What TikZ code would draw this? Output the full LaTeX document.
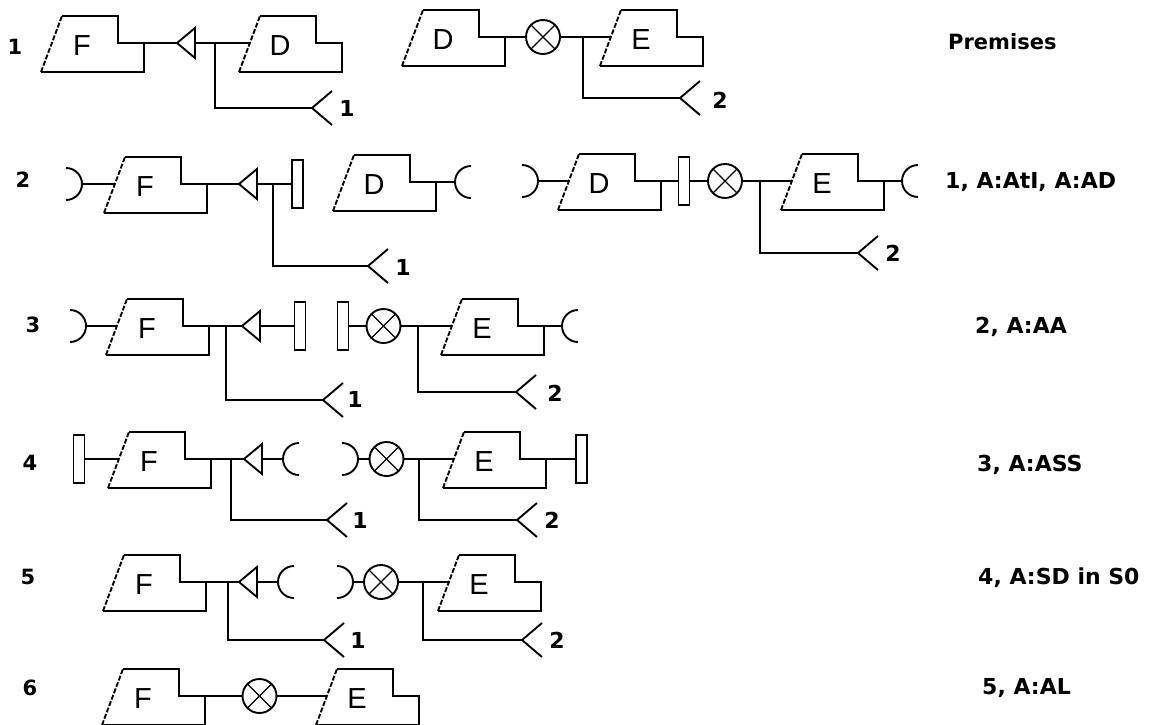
\documentclass[tikz,border=0pt]{standalone}
\usepackage{fontspec}
\setmainfont{DejaVu Sans}
\newfontfamily\blkfont{Liberation Sans}
\begin{document}
\begin{tikzpicture}[x=1pt,y=-1pt,
  ln/.style={line width=1.9pt, black},
  blkletter/.style={font=\blkfont\fontsize{29}{31}\selectfont, inner sep=0pt},
  txt/.style={font=\bfseries\fontsize{22}{26}\selectfont, inner sep=0pt, anchor=west},
  rowno/.style={font=\bfseries\fontsize{21}{24}\selectfont, inner sep=0pt},
  brno/.style={font=\bfseries\fontsize{22}{26}\selectfont, inner sep=0pt},
  ox/.style={circle, draw, line width=1.9pt, minimum size=34pt, inner sep=0pt,
    path picture={\draw[line width=1.2pt] (path picture bounding box.north west) -- (path picture bounding box.south east)
      (path picture bounding box.north east) -- (path picture bounding box.south west);}},
  bar/.style={draw, line width=1.9pt, minimum width=11pt, minimum height=48pt, inner sep=0pt},
  pics/blk/.style={code={
    \draw[ln, line join=miter] (21,-56) -- (77,-56) -- (77,-29) -- (103,-29) -- (103,0) -- (0,0);
    \draw[ln, dash pattern=on 5pt off 1.8pt] (0,0) -- (21,-56);
    \coordinate (-in) at (10.9,-29);
    \coordinate (-out) at (103,-29);
    \node[blkletter] (-txt) at (41,-26) {#1};
  }},
  pics/tri/.style={code={
    \draw[ln] (0,0) -- (18,-15) -- (18,15) -- cycle;
    \coordinate (-tip) at (0,0);
    \coordinate (-base) at (18,0);
  }},
  pics/fork/.style={code={
    \draw[ln] (20,-17) -- (0,0) -- (20,17);
    \coordinate (-v) at (0,0);
  }},
  pics/cupR/.style={code={
    \draw[ln] (-16,16) arc[start angle=90, end angle=-90, radius=16];
    \coordinate (-a) at (0,0);
  }},
  pics/cupL/.style={code={
    \draw[ln] (16,16) arc[start angle=90, end angle=270, radius=16];
    \coordinate (-a) at (0,0);
  }}
]
\useasboundingbox (0,0) rectangle (1152,724);
\clip (0,0) rectangle (1152,724);

% ---------- row 1 ----------
\node[rowno] (n1) at (15,47) {1};
\pic (F1) at (41,72) {blk=F};
\pic (T1) at (177,43) {tri};
\pic (D1) at (239,72) {blk=D};
\draw[ln] (F1-out) -- (T1-tip);
\draw[ln] (T1-base) -- (D1-in);
\coordinate (b1) at (215,43);
\pic (K1) at (312,108) {fork};
\draw[ln] (b1) |- (K1-v);
\node[brno] (k1) at (347,108) {1};

\pic (D2) at (402,66) {blk=D};
\node[ox] (X1) at (543,37) {};
\pic (E1) at (600,66) {blk=E};
\draw[ln] (D2-out) -- (X1.west);
\draw[ln] (X1.east) -- (E1-in);
\coordinate (b2) at (583,37);
\pic (K2) at (680,98) {fork};
\draw[ln] (b2) |- (K2-v);
\node[brno] (k2) at (720,100) {2};

\node[txt, font=\bfseries\fontsize{21}{25}\selectfont] (t1) at (948,42) {Premises};

% ---------- row 2 ----------
\node[rowno] (n2) at (23,180) {2};
\pic (A2) at (82,184) {cupR};
\pic (F2) at (104,213) {blk=F};
\draw[ln] (A2-a) -- (F2-in);
\pic (T2) at (239,184) {tri};
\draw[ln] (F2-out) -- (T2-tip);
\node[bar] (R2) at (297.5,184) {};
\draw[ln] (T2-base) -- (R2.west);
\coordinate (b3) at (273,184);
\pic (K3) at (368,266) {fork};
\draw[ln] (b3) |- (K3-v);
\node[brno] (k3) at (403,267) {1};

\pic (D3) at (333,211) {blk=D};
\pic (L2) at (455,182) {cupL};
\draw[ln] (D3-out) -- (L2-a);

\pic (A3) at (538,181) {cupR};
\pic (D4) at (558,210) {blk=D};
\draw[ln] (A3-a) -- (D4-in);
\node[bar] (R3) at (684,181) {};
\draw[ln] (D4-out) -- (R3.west);
\node[ox] (X2) at (725,181) {};
\draw[ln] (R3.east) -- (X2.west);
\pic (E2) at (781,210) {blk=E};
\draw[ln] (X2.east) -- (E2-in);
\coordinate (b4) at (760,181);
\pic (K4) at (858,253) {fork};
\draw[ln] (b4) |- (K4-v);
\node[brno] (k4) at (893,253) {2};
\pic (L3) at (902,181) {cupL};
\draw[ln] (E2-out) -- (L3-a);

\node[txt] (t2) at (945,182) {1, A:AtI, A:AD};

% ---------- row 3 ----------
\node[rowno] (n3) at (33,325) {3};
\pic (A4) at (86,326) {cupR};
\pic (F3) at (106,355) {blk=F};
\draw[ln] (A4-a) -- (F3-in);
\pic (T3) at (242,326) {tri};
\draw[ln] (F3-out) -- (T3-tip);
\node[bar] (R4) at (300,326) {};
\draw[ln] (T3-base) -- (R4.west);
\coordinate (b5) at (226,326);
\pic (K5) at (323,400) {fork};
\draw[ln] (b5) |- (K5-v);
\node[brno] (k5) at (355,399) {1};

\node[bar] (R5) at (343,326) {};
\node[ox] (X3) at (383.5,326) {};
\draw[ln] (R5.east) -- (X3.west);
\pic (E3) at (441,355) {blk=E};
\draw[ln] (X3.east) -- (E3-in);
\coordinate (b6) at (418,326);
\pic (K6) at (516,392) {fork};
\draw[ln] (b6) |- (K6-v);
\node[brno] (k6) at (555,393) {2};
\pic (L4) at (562,326) {cupL};
\draw[ln] (E3-out) -- (L4-a);

\node[txt] (t3) at (975,327) {2, A:AA};

% ---------- row 4 ----------
\node[rowno] (n4) at (30,463) {4};
\node[bar] (R6) at (79,459) {};
\pic (F4) at (108,488) {blk=F};
\draw[ln] (R6.east) -- (F4-in);
\pic (T4) at (244,459) {tri};
\draw[ln] (F4-out) -- (T4-tip);
\pic (L5) at (283,459) {cupL};
\draw[ln] (T4-base) -- (L5-a);
\coordinate (b7) at (231,459);
\pic (K7) at (327,520) {fork};
\draw[ln] (b7) |- (K7-v);
\node[brno] (k7) at (360,520) {1};

\pic (A5) at (358,459) {cupR};
\node[ox] (X4) at (386.5,459) {};
\draw[ln] (A5-a) -- (X4.west);
\pic (E4) at (443,488) {blk=E};
\draw[ln] (X4.east) -- (E4-in);
\coordinate (b8) at (419,459);
\pic (K8) at (517,520) {fork};
\draw[ln] (b8) |- (K8-v);
\node[brno] (k8) at (552,520) {2};
\node[bar] (R7) at (581.5,459) {};
\draw[ln] (E4-out) -- (R7.west);

\node[txt] (t4) at (977,465) {3, A:ASS};

% ---------- row 5 ----------
\node[rowno] (n5) at (28,577) {5};
\pic (F5) at (103,611) {blk=F};
\pic (T5) at (239,582) {tri};
\draw[ln] (F5-out) -- (T5-tip);
\pic (L6) at (278,582) {cupL};
\draw[ln] (T5-base) -- (L6-a);
\coordinate (b9) at (228,582);
\pic (K9) at (324,640) {fork};
\draw[ln] (b9) |- (K9-v);
\node[brno] (k9) at (358,640) {1};

\pic (A6) at (353,582) {cupR};
\node[ox] (X5) at (381,582) {};
\draw[ln] (A6-a) -- (X5.west);
\pic (E5) at (438,611) {blk=E};
\draw[ln] (X5.east) -- (E5-in);
\coordinate (b10) at (423,582);
\pic (K10) at (522,640) {fork};
\draw[ln] (b10) |- (K10-v);
\node[brno] (k10) at (557,640) {2};

\node[txt] (t5) at (978,578) {4, A:SD in S0};

% ---------- row 6 ----------
\node[rowno] (n6) at (30,688) {6};
\pic (F6) at (102,725) {blk=F};
\node[ox] (X6) at (259.5,696) {};
\draw[ln] (F6-out) -- (X6.west);
\pic (E6) at (316,725) {blk=E};
\draw[ln] (X6.east) -- (E6-in);

\node[txt] (t6) at (982,688) {5, A:AL};
\end{tikzpicture}
\end{document}
